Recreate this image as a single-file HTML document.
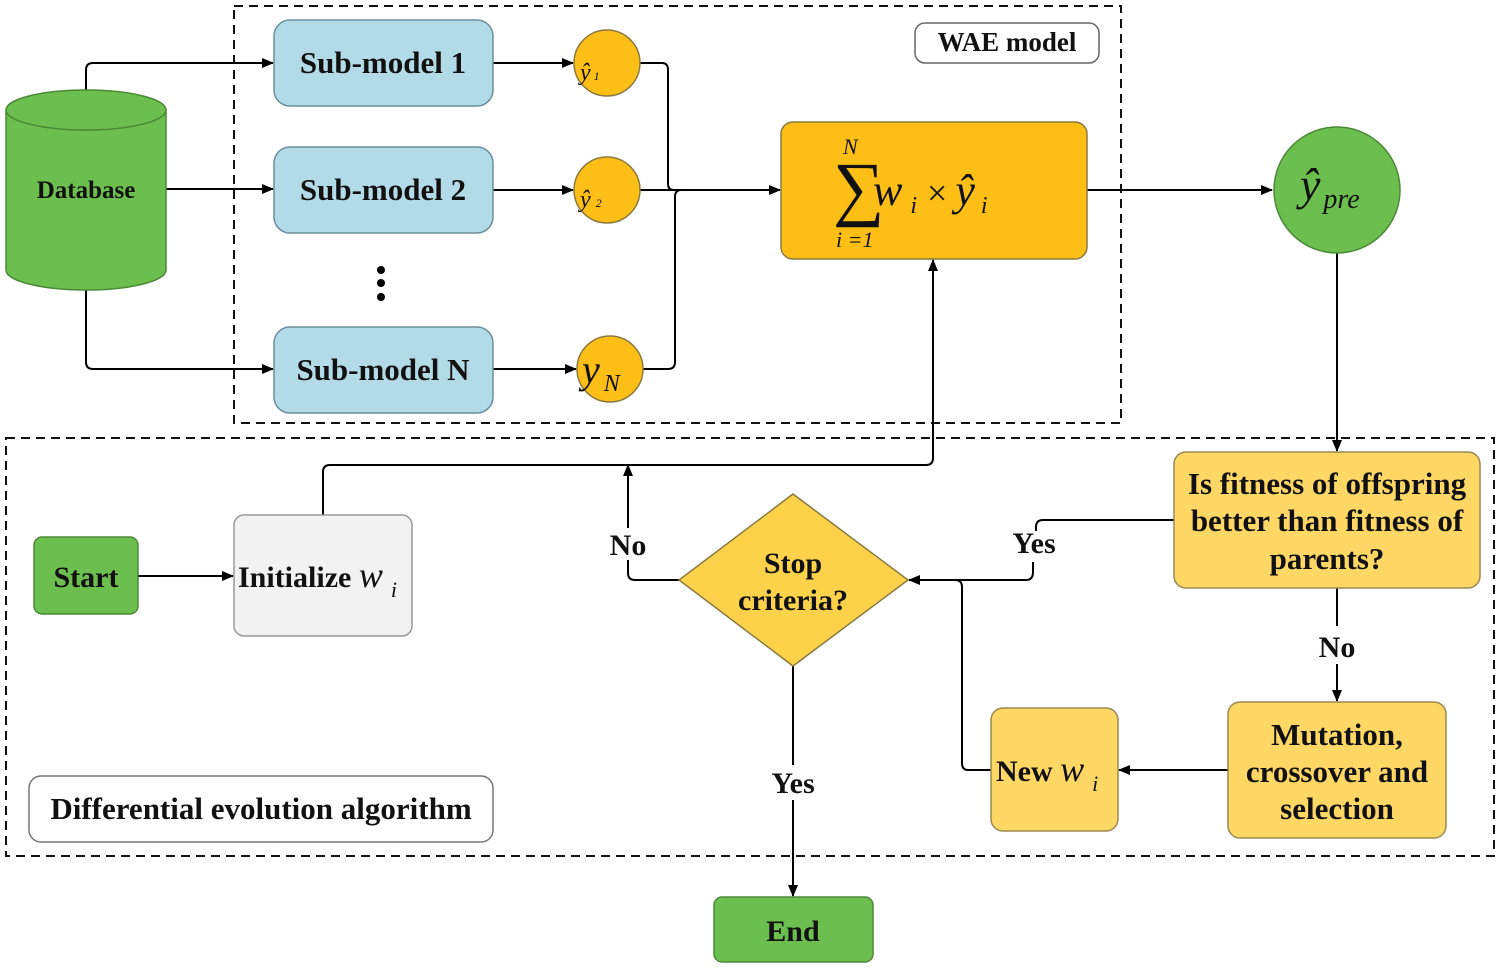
<!DOCTYPE html>
<html><head><meta charset="utf-8"><style>
html,body{margin:0;padding:0;background:#fff;}
svg{display:block;}
text{font-family:"Liberation Serif",serif;font-weight:bold;fill:#111;}
.m{font-weight:normal;font-style:italic;}
</style></head><body>
<svg width="1500" height="969" viewBox="0 0 1500 969" xmlns="http://www.w3.org/2000/svg">
<defs>
<marker id="a" markerWidth="12" markerHeight="10" refX="11" refY="5" orient="auto" markerUnits="userSpaceOnUse">
<path d="M0,0 L12,5 L0,10 z" fill="#000"/></marker>
</defs>
<g fill="none" stroke="#111" stroke-width="2" stroke-dasharray="9,6">
<rect x="234" y="6" width="887" height="417"/>
<rect x="6" y="438" width="1488" height="418"/>
</g>
<g fill="none" stroke="#000" stroke-width="2">
<path d="M86,92 V70 Q86,63 93,63 H273" marker-end="url(#a)"/>
<path d="M166,189 H273" marker-end="url(#a)"/>
<path d="M86,288 V362 Q86,369 93,369 H273" marker-end="url(#a)"/>
<path d="M493,63 H573" marker-end="url(#a)"/>
<path d="M493,190 H573" marker-end="url(#a)"/>
<path d="M493,369 H576" marker-end="url(#a)"/>
<path d="M640,63 H662 Q668,63 668,70 V184 Q668,190 674,190"/>
<path d="M640,190 H780" marker-end="url(#a)"/>
<path d="M643,369 H668 Q675,369 675,362 V197 Q675,190 681,190"/>
<path d="M1087,190 H1272" marker-end="url(#a)"/>
<path d="M1337,253 V451" marker-end="url(#a)"/>
<path d="M1174,520 H1043 Q1036,520 1036,527 V531"/>
<path d="M1033,562 V572 Q1033,580 1026,580 H909" marker-end="url(#a)"/>
<path d="M1337,588 V626"/>
<path d="M1337,664 V701" marker-end="url(#a)"/>
<path d="M1228,770 H1119" marker-end="url(#a)"/>
<path d="M991,770 H968 Q962,770 962,763 V587 Q962,580 955,580"/>
<path d="M679,580 H635 Q628,580 628,573 V560"/>
<path d="M628,528 V465" marker-end="url(#a)"/>
<path d="M323,515 V472 Q323,465 330,465 H926 Q933,465 933,458 V260" marker-end="url(#a)"/>
<path d="M138,576 H233" marker-end="url(#a)"/>
<path d="M793,666 V765"/>
<path d="M793,800 V896" marker-end="url(#a)"/>
</g>
<path d="M6,110 V270 A80,20 0 0 0 166,270 V110" fill="#6cbf4f" stroke="#4a8a36" stroke-width="1.5"/>
<ellipse cx="86" cy="110" rx="80" ry="20" fill="#6cbf4f" stroke="#4a8a36" stroke-width="1.5"/>
<text x="86" y="198" text-anchor="middle" font-size="25">Database</text>
<g fill="#b3dbe7" stroke="#6b8fa0" stroke-width="1.5">
<rect x="274" y="20" width="219" height="86" rx="16"/>
<rect x="274" y="147" width="219" height="86" rx="16"/>
<rect x="274" y="327" width="219" height="86" rx="16"/>
</g>
<text x="383" y="73" text-anchor="middle" font-size="31">Sub-model 1</text>
<text x="383" y="200" text-anchor="middle" font-size="31">Sub-model 2</text>
<text x="383" y="380" text-anchor="middle" font-size="31">Sub-model N</text>
<circle cx="381" cy="270" r="4" fill="#000"/><circle cx="381" cy="283" r="4" fill="#000"/><circle cx="381" cy="297" r="4" fill="#000"/>
<rect x="915" y="23" width="184" height="40" rx="10" fill="#fff" stroke="#666" stroke-width="1.5"/>
<text x="1007" y="51" text-anchor="middle" font-size="27">WAE model</text>
<g fill="#fdbf16" stroke="#8a7a40" stroke-width="1.5">
<circle cx="607" cy="63" r="33"/><circle cx="607" cy="190" r="33"/><circle cx="610" cy="369" r="33"/>
<rect x="781" y="122" width="306" height="137" rx="12"/>
</g>
<text class="m" x="580" y="80" font-size="24">ŷ<tspan font-size="12" dx="3">1</tspan></text>
<text class="m" x="580" y="207" font-size="24">ŷ<tspan font-size="12" dx="5">2</tspan></text>
<text class="m" x="582" y="383" font-size="40">y<tspan font-size="24" dx="4" dy="8">N</tspan></text>
<text x="833" y="212" font-size="72" style="font-weight:normal">∑</text>
<text class="m" x="843" y="154" font-size="22">N</text>
<text class="m" x="836" y="247" font-size="22">i =1</text>
<text class="m" x="873" y="205" font-size="44">w<tspan font-size="24" dx="8" dy="8">i</tspan><tspan dx="10" dy="-8" style="font-style:normal" font-size="36">×</tspan><tspan dx="8">ŷ</tspan><tspan font-size="24" dx="6" dy="8">i</tspan></text>
<circle cx="1337" cy="190" r="63" fill="#6cbf4f" stroke="#4a8a36" stroke-width="1.5"/>
<text class="m" x="1300" y="200" font-size="46">ŷ<tspan font-size="28" dx="3" dy="8">pre</tspan></text>
<rect x="1174" y="452" width="306" height="136" rx="12" fill="#fed765" stroke="#9a8a50" stroke-width="1.5"/>
<text x="1327" y="494" text-anchor="middle" font-size="31">Is fitness of offspring</text>
<text x="1327" y="531" text-anchor="middle" font-size="31">better than fitness of</text>
<text x="1327" y="569" text-anchor="middle" font-size="31">parents?</text>
<rect x="1228" y="702" width="218" height="136" rx="12" fill="#fed765" stroke="#9a8a50" stroke-width="1.5"/>
<text x="1337" y="745" text-anchor="middle" font-size="31">Mutation,</text>
<text x="1337" y="782" text-anchor="middle" font-size="31">crossover and</text>
<text x="1337" y="819" text-anchor="middle" font-size="31">selection</text>
<rect x="991" y="708" width="127" height="123" rx="12" fill="#fed765" stroke="#9a8a50" stroke-width="1.5"/>
<text x="996" y="781" font-size="30">New <tspan class="m" font-size="36">w</tspan><tspan class="m" font-size="22" dx="8" dy="10">i</tspan></text>
<path d="M793,494 L908,580 L793,666 L679,580 Z" fill="#fdd24b" stroke="#8a7a40" stroke-width="1.5"/>
<text x="793" y="573" text-anchor="middle" font-size="30">Stop</text>
<text x="793" y="610" text-anchor="middle" font-size="30">criteria?</text>
<text x="1034" y="553" text-anchor="middle" font-size="30">Yes</text>
<text x="1337" y="657" text-anchor="middle" font-size="30">No</text>
<text x="628" y="555" text-anchor="middle" font-size="30">No</text>
<text x="793" y="793" text-anchor="middle" font-size="30">Yes</text>
<rect x="34" y="537" width="104" height="77" rx="8" fill="#6cbf4f" stroke="#4a8a36" stroke-width="1.5"/>
<text x="86" y="587" text-anchor="middle" font-size="30">Start</text>
<rect x="234" y="515" width="178" height="121" rx="10" fill="#f2f2f2" stroke="#999" stroke-width="1.5"/>
<text x="238" y="587" font-size="30">Initialize <tspan class="m" font-size="36">w</tspan><tspan class="m" font-size="22" dx="8" dy="10">i</tspan></text>
<rect x="714" y="897" width="159" height="65" rx="8" fill="#6cbf4f" stroke="#4a8a36" stroke-width="1.5"/>
<text x="793" y="941" text-anchor="middle" font-size="30">End</text>
<rect x="29" y="776" width="464" height="66" rx="12" fill="#fff" stroke="#777" stroke-width="1.5"/>
<text x="261" y="819" text-anchor="middle" font-size="31">Differential evolution algorithm</text>
</svg>
</body></html>
